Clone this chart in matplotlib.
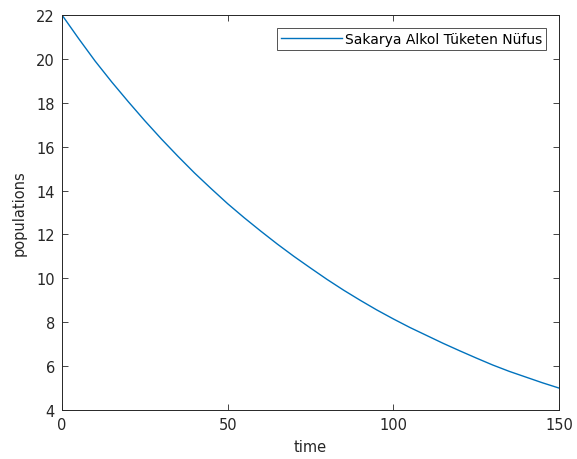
import matplotlib
matplotlib.use("Agg")
import matplotlib.pyplot as plt

time = [0, 5, 10, 15, 20, 25, 30, 35, 40, 45, 50, 55, 60, 65, 70, 75,
        80, 85, 90, 95, 100, 105, 110, 115, 120, 125, 130, 135, 140, 145, 150]
population = [22.0, 20.93, 19.9, 18.95, 18.05, 17.18, 16.35, 15.56, 14.8, 14.09,
              13.4, 12.76, 12.15, 11.56, 11.0, 10.47, 9.95, 9.46, 9.0, 8.56,
              8.15, 7.76, 7.4, 7.04, 6.7, 6.37, 6.05, 5.76, 5.5, 5.24, 5.0]
xticks = [0, 50, 100, 150]
yticks = [4, 6, 8, 10, 12, 14, 16, 18, 20, 22]
series_label = "Sakarya Alkol Tüketen Nüfus"

plt.rcParams['font.family'] = ['DejaVu Sans']
fig = plt.figure(figsize=(5.77, 4.6), dpi=100)
ax = fig.add_axes([62/577, 1-411/460, (559-62)/577, (411-16)/460])

ax.plot(time, population, color=(0, 0.447, 0.741), linewidth=1.0, label=series_label)
ax.set_xlim(0, 150)
ax.set_ylim(4, 22)
ax.set_xticks(xticks)
ax.set_yticks(yticks)
ax.tick_params(direction='in', top=True, right=True, labelsize=10.5, colors='#262626',
               length=4, width=0.6, pad=5)
for s in ax.spines.values():
    s.set_color('#262626')
    s.set_linewidth(0.7)
ax.set_xlabel('time', fontsize=10.5, color='#262626', labelpad=5)
ax.set_ylabel('populations', fontsize=10.5, color='#262626', labelpad=7)
leg = ax.legend(loc='upper right', fontsize=10, frameon=True, fancybox=False,
                edgecolor='#262626', handlelength=4.4, borderpad=0.3,
                handletextpad=0.2, borderaxespad=0,
                bbox_to_anchor=(0.974, 0.967))
leg.get_frame().set_linewidth(0.7)

fig.savefig('out.png', dpi=100)
